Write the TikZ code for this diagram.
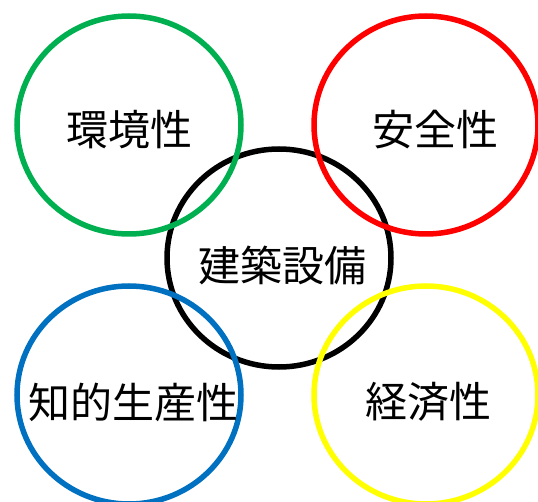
\documentclass[tikz,border=0pt]{standalone}
\usepackage{fontspec}
\setmainfont{Noto Sans CJK JP}
\definecolor{ogreen}{HTML}{00B050}
\definecolor{ored}{HTML}{FF0000}
\definecolor{oyellow}{HTML}{FFFF00}
\definecolor{oblue}{HTML}{0070C0}
\tikzset{
  ring/.style={draw, line width=5.5pt, ellipse, minimum width=224pt, minimum height=218pt},
  lbl/.style={font=\fontsize{42}{42}\selectfont, inner sep=0pt}
}
\usetikzlibrary{shapes.geometric}
\begin{document}
\begin{tikzpicture}[x=1pt,y=-1pt]
\useasboundingbox (0,0) rectangle (538,502);
\begin{scope}
\clip (0,0) rectangle (538,502);
\node[ring, draw=black] (core) at (279,258) {};
\node[ring, draw=ogreen] (env) at (129,125) {};
\node[ring, draw=ored] (safe) at (426,125) {};
\node[ring, draw=oblue] (prod) at (129,395) {};
\node[ring, draw=oyellow] (econ) at (426,395) {};
\end{scope}
\node[lbl] (tcore) at (282,265) {建築設備};
\node[lbl] (tenv) at (129,130) {環境性};
\node[lbl] (tsafe) at (435,130) {安全性};
\node[lbl] (tprod) at (133,402) {知的生産性};
\node[lbl] (tecon) at (428,402) {経済性};
\end{tikzpicture}
\end{document}
